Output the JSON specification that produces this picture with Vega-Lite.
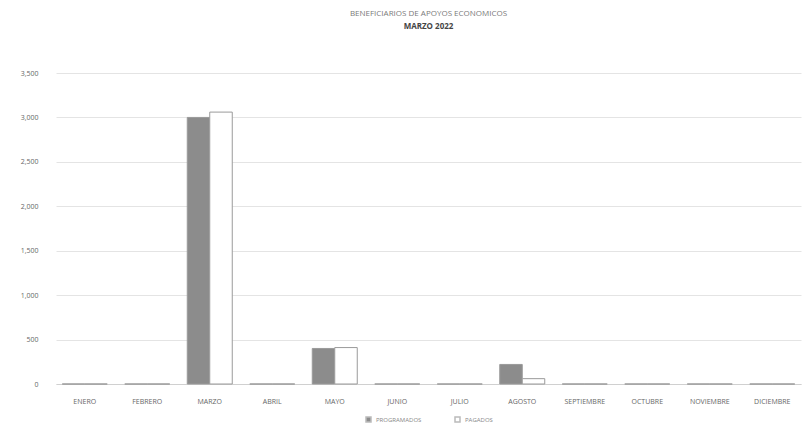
{
  "$schema": "https://vega.github.io/schema/vega-lite/v6.json",
  "width": 803,
  "height": 427,
  "autosize": {"type": "fit", "contains": "padding"},
  "padding": {"left": 20, "top": 10, "right": 2, "bottom": 2},
  "background": "white",
  "title": {
    "text": "BENEFICIARIOS DE APOYOS ECONOMICOS",
    "subtitle": "MARZO 2022",
    "anchor": "middle",
    "font": "Open Sans",
    "fontSize": 8,
    "fontWeight": "normal",
    "color": "#7a7a7a",
    "subtitleFont": "Open Sans",
    "subtitleFontSize": 8,
    "subtitleFontWeight": "bold",
    "subtitleColor": "#444444",
    "subtitlePadding": 5,
    "offset": 38
  },
  "data": {
    "values": [
      {"mes": "ENERO", "serie": "PROGRAMADOS", "valor": 0},
      {"mes": "ENERO", "serie": "PAGADOS", "valor": 0},
      {"mes": "FEBRERO", "serie": "PROGRAMADOS", "valor": 0},
      {"mes": "FEBRERO", "serie": "PAGADOS", "valor": 0},
      {"mes": "MARZO", "serie": "PROGRAMADOS", "valor": 3000},
      {"mes": "MARZO", "serie": "PAGADOS", "valor": 3060},
      {"mes": "ABRIL", "serie": "PROGRAMADOS", "valor": 0},
      {"mes": "ABRIL", "serie": "PAGADOS", "valor": 0},
      {"mes": "MAYO", "serie": "PROGRAMADOS", "valor": 400},
      {"mes": "MAYO", "serie": "PAGADOS", "valor": 410},
      {"mes": "JUNIO", "serie": "PROGRAMADOS", "valor": 0},
      {"mes": "JUNIO", "serie": "PAGADOS", "valor": 0},
      {"mes": "JULIO", "serie": "PROGRAMADOS", "valor": 0},
      {"mes": "JULIO", "serie": "PAGADOS", "valor": 0},
      {"mes": "AGOSTO", "serie": "PROGRAMADOS", "valor": 220},
      {"mes": "AGOSTO", "serie": "PAGADOS", "valor": 60},
      {"mes": "SEPTIEMBRE", "serie": "PROGRAMADOS", "valor": 0},
      {"mes": "SEPTIEMBRE", "serie": "PAGADOS", "valor": 0},
      {"mes": "OCTUBRE", "serie": "PROGRAMADOS", "valor": 0},
      {"mes": "OCTUBRE", "serie": "PAGADOS", "valor": 0},
      {"mes": "NOVIEMBRE", "serie": "PROGRAMADOS", "valor": 0},
      {"mes": "NOVIEMBRE", "serie": "PAGADOS", "valor": 0},
      {"mes": "DICIEMBRE", "serie": "PROGRAMADOS", "valor": 0},
      {"mes": "DICIEMBRE", "serie": "PAGADOS", "valor": 0}
    ]
  },
  "mark": {"type": "bar", "stroke": "#9a9a9a", "strokeWidth": 1},
  "encoding": {
    "x": {
      "field": "mes",
      "type": "nominal",
      "sort": ["ENERO","FEBRERO","MARZO","ABRIL","MAYO","JUNIO","JULIO","AGOSTO","SEPTIEMBRE","OCTUBRE","NOVIEMBRE","DICIEMBRE"],
      "scale": {"paddingInner": 0.28, "paddingOuter": 0.1},
      "axis": {
        "title": null,
        "labelAngle": 0,
        "labelFont": "Open Sans",
        "labelFontSize": 7,
        "labelColor": "#666666",
        "ticks": false,
        "domainColor": "#d0d0d0",
        "labelPadding": 13
      }
    },
    "xOffset": {"field": "serie", "type": "nominal", "sort": ["PROGRAMADOS", "PAGADOS"]},
    "y": {
      "field": "valor",
      "type": "quantitative",
      "scale": {"domain": [0, 3500]},
      "axis": {
        "title": null,
        "values": [0, 500, 1000, 1500, 2000, 2500, 3000, 3500],
        "format": ",.0f",
        "labelFont": "Open Sans",
        "labelFontSize": 7,
        "labelColor": "#666666",
        "ticks": false,
        "domain": false,
        "gridColor": "#e4e4e4",
        "labelPadding": 18
      }
    },
    "color": {
      "field": "serie",
      "type": "nominal",
      "sort": ["PROGRAMADOS", "PAGADOS"],
      "scale": {"domain": ["PROGRAMADOS", "PAGADOS"], "range": ["#8c8c8c", "#ffffff"]},
      "legend": {
        "title": null,
        "orient": "bottom",
        "direction": "horizontal",
        "symbolType": "square",
        "symbolSize": 25,
        "symbolStrokeColor": "#bbbbbb",
        "labelFont": "Open Sans",
        "labelFontSize": 6,
        "labelColor": "#888888",
        "columnPadding": 30,
        "offset": 12
      }
    }
  },
  "config": {
    "view": {"stroke": null},
    "legend": {"layout": {"bottom": {"anchor": "middle"}}}
  }
}
